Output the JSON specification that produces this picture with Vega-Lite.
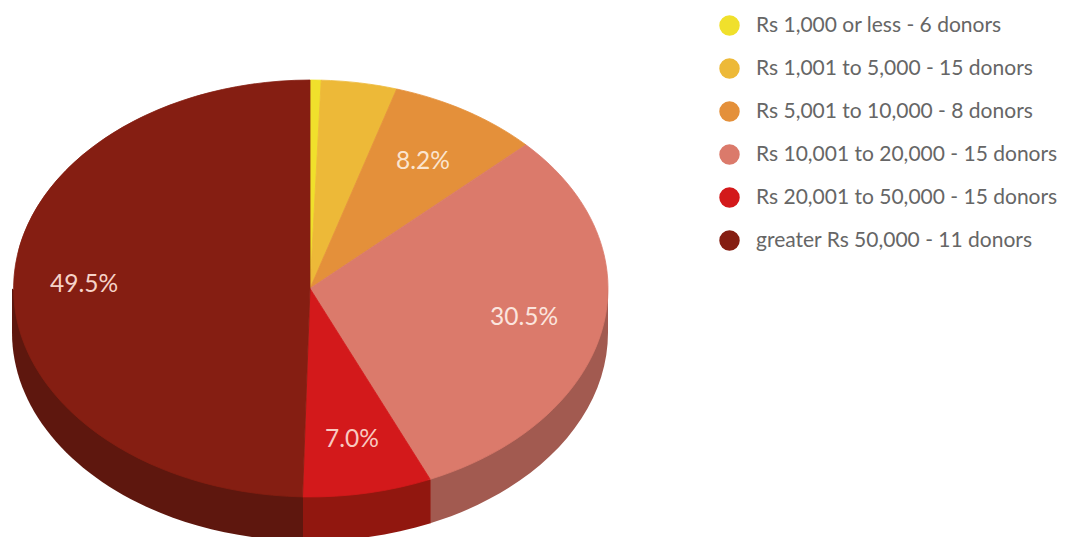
{
"$schema":"https://vega.github.io/schema/vega-lite/v6.json",
"width":1068,"height":537,"autosize":"none","padding":0,"background":"white",
"config":{"view":{"stroke":null}},
"data":{"values":[
{"slice":"Rs 1,000 or less - 6 donors","pct":0.6,"label":""},
{"slice":"Rs 1,001 to 5,000 - 15 donors","pct":4.1,"label":""},
{"slice":"Rs 5,001 to 10,000 - 8 donors","pct":8.2,"label":"8.2%"},
{"slice":"Rs 10,001 to 20,000 - 15 donors","pct":30.5,"label":"30.5%"},
{"slice":"Rs 20,001 to 50,000 - 15 donors","pct":7.0,"label":"7.0%"},
{"slice":"greater Rs 50,000 - 11 donors","pct":49.5,"label":"49.5%"}
]},
"layer":[
{"transform":[{"filter":"datum.pct>=7 && datum.pct!=8.2"}],
 "mark":{"type":"point","filled":true,"opacity":1,"size":4,"clip":false},
 "encoding":{
  "shape":{"field":"slice","type":"nominal","legend":null,"scale":{"domain":["Rs 10,001 to 20,000 - 15 donors","Rs 20,001 to 50,000 - 15 donors","greater Rs 50,000 - 11 donors"],"range":[
   "M 74 20 L -103.8 210.8 L -103.8 254.8 A 298 208.5 0 0 0 74 64 Z",
   "M -103.3 210.8 L -231.5 228.4 L -231.5 272.4 A 298 208.5 0 0 0 -103.3 254.8 Z",
   "M -231 228.4 L -522 20 L -522 64 A 298 208.5 0 0 0 -231 272.4 Z"]}},
  "color":{"field":"slice","type":"nominal","legend":null,"scale":{"domain":["Rs 10,001 to 20,000 - 15 donors","Rs 20,001 to 50,000 - 15 donors","greater Rs 50,000 - 11 donors"],"range":["#a25a50","#91170f","#5e170e"]}}
 }},
{"mark":{"type":"point","filled":true,"opacity":1,"size":4,"clip":false,"strokeWidth":0.8},
 "encoding":{
  "shape":{"field":"slice","type":"nominal","legend":null,"sort":null,"scale":{"domain":["Rs 1,000 or less - 6 donors","Rs 1,001 to 5,000 - 15 donors","Rs 5,001 to 10,000 - 8 donors","Rs 10,001 to 20,000 - 15 donors","Rs 20,001 to 50,000 - 15 donors","greater Rs 50,000 - 11 donors"],"range":[
   "M -224 20 L -224 -188.5 A 298 208.5 0 0 1 -212.8 -188.35 Z",
   "M -224 20 L -212.8 -188.35 A 298 208.5 0 0 1 -137.3 -179.5 Z",
   "M -224 20 L -137.3 -179.5 A 298 208.5 0 0 1 -8.1 -123.7 Z",
   "M -224 20 L -8.1 -123.7 A 298 208.5 0 0 1 -103.8 210.8 Z",
   "M -224 20 L -103.8 210.8 A 298 208.5 0 0 1 -231.5 228.4 Z",
   "M -224 20 L -231.5 228.4 A 298 208.5 0 0 1 -224 -188.5 Z"]}},
  "color":{"field":"slice","type":"nominal","sort":null,"legend":null,
   "scale":{"domain":["Rs 1,000 or less - 6 donors","Rs 1,001 to 5,000 - 15 donors","Rs 5,001 to 10,000 - 8 donors","Rs 10,001 to 20,000 - 15 donors","Rs 20,001 to 50,000 - 15 donors","greater Rs 50,000 - 11 donors"],"range":["#f0e02c","#edb938","#e4903a","#db7a6b","#d3191b","#851e12"]}},
  "stroke":{"field":"slice","type":"nominal","sort":null,"legend":null,
   "scale":{"domain":["Rs 1,000 or less - 6 donors","Rs 1,001 to 5,000 - 15 donors","Rs 5,001 to 10,000 - 8 donors","Rs 10,001 to 20,000 - 15 donors","Rs 20,001 to 50,000 - 15 donors","greater Rs 50,000 - 11 donors"],"range":["#f0e02c","#edb938","#e4903a","#db7a6b","#d3191b","#851e12"]}}
 }},
{"mark":{"type":"point","filled":true,"opacity":1,"size":0,"shape":"circle"},
 "encoding":{
  "color":{"field":"slice","type":"nominal","sort":null,
   "scale":{"domain":["Rs 1,000 or less - 6 donors","Rs 1,001 to 5,000 - 15 donors","Rs 5,001 to 10,000 - 8 donors","Rs 10,001 to 20,000 - 15 donors","Rs 20,001 to 50,000 - 15 donors","greater Rs 50,000 - 11 donors"],"range":["#f0e02c","#edb938","#e4903a","#db7a6b","#d3191b","#851e12"]},
   "legend":{"title":null,"orient":"none","legendX":719,"legendY":4,"symbolType":"circle","symbolSize":420,"symbolStrokeWidth":0,"symbolOpacity":1,"labelFont":"Lato","labelFontSize":21,"labelColor":"#666666","labelOffset":16,"clipHeight":43,"rowPadding":0,"labelLimit":340}}
 }},
{"transform":[{"filter":"datum.pct==49.5"}],"mark":{"type":"text","font":"Lato","fontSize":24.5,"color":"#f6d3c8","dx":-450,"dy":16.5},"encoding":{"text":{"field":"label"}}},
{"transform":[{"filter":"datum.pct==30.5"}],"mark":{"type":"text","font":"Lato","fontSize":24.5,"color":"#fbe5de","dx":-10,"dy":49.5},"encoding":{"text":{"field":"label"}}},
{"transform":[{"filter":"datum.pct==8.2"}],"mark":{"type":"text","font":"Lato","fontSize":24.5,"color":"#fbe5cf","dx":-111,"dy":-106.5},"encoding":{"text":{"field":"label"}}},
{"transform":[{"filter":"datum.pct==7"}],"mark":{"type":"text","font":"Lato","fontSize":24.5,"color":"#f9c9c0","dx":-182,"dy":171.5},"encoding":{"text":{"field":"label"}}}
],
"resolve":{"scale":{"shape":"independent","color":"independent","stroke":"independent"}}
}
